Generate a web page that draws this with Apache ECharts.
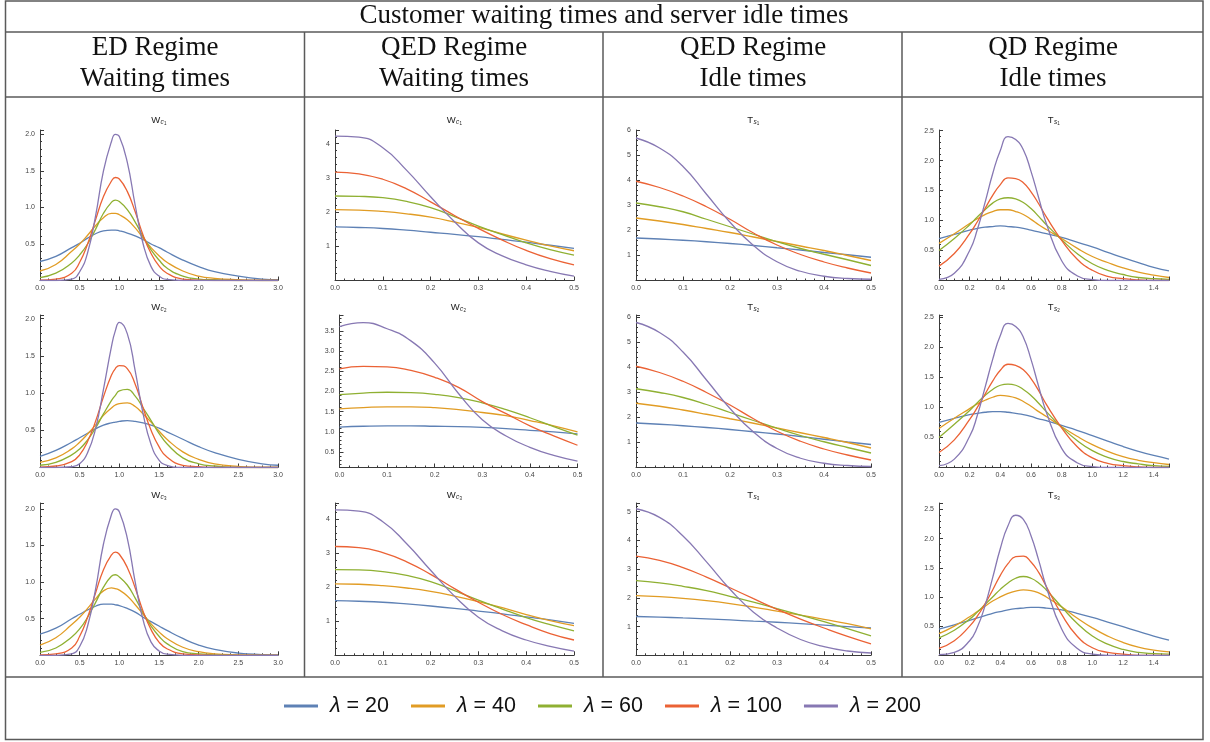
<!DOCTYPE html>
<html lang="en">
<head>
<meta charset="UTF-8">
<title>Customer waiting times and server idle times</title>
<script src="https://cdn.jsdelivr.net/npm/echarts@6/dist/echarts.min.js"></script>
<style>
    html, body { margin: 0; padding: 0; background: #fff; }
    #main { width: 1210px; height: 742px; }
</style>
</head>
<body>
<div id="main"></div>
<script type="text/javascript">
    var lambdas = ['λ = 20', 'λ = 40', 'λ = 60', 'λ = 100', 'λ = 200'];
    var colors = ['#5e81b5', '#e19c24', '#8fb032', '#eb6235', '#8778b3'];

    // x samples for each kind of panel
    var xsED = [0, 0.2, 0.4, 0.5, 0.6, 0.7, 0.8, 0.9, 0.95, 1.0, 1.1, 1.2, 1.3, 1.4, 1.5, 1.6, 1.8, 2.0, 2.2, 2.5, 2.8, 3.0];
    var xsQED = [0, 0.05, 0.1, 0.15, 0.2, 0.25, 0.3, 0.35, 0.4, 0.45, 0.5];
    var xsQD = [0, 0.1, 0.2, 0.25, 0.3, 0.35, 0.4, 0.45, 0.5, 0.55, 0.6, 0.65, 0.7, 0.8, 0.9, 1.0, 1.1, 1.2, 1.3, 1.4, 1.5];

    // ED regime, waiting times (rows: lambda 20, 40, 60, 100, 200)
    var edW1 = [
        [0.26, 0.33, 0.45, 0.51, 0.58, 0.64, 0.68, 0.69, 0.69, 0.68, 0.65, 0.61, 0.56, 0.5, 0.45, 0.39, 0.28, 0.19, 0.12, 0.06, 0.02, 0.01],
        [0.13, 0.22, 0.4, 0.5, 0.62, 0.75, 0.86, 0.92, 0.92, 0.9, 0.83, 0.72, 0.58, 0.45, 0.34, 0.25, 0.13, 0.06, 0.03, 0.01, 0, 0],
        [0.04, 0.1, 0.24, 0.35, 0.5, 0.7, 0.92, 1.07, 1.1, 1.08, 0.97, 0.8, 0.6, 0.42, 0.28, 0.17, 0.06, 0.02, 0.01, 0, 0, 0],
        [0.005, 0.02, 0.1, 0.25, 0.5, 0.83, 1.15, 1.36, 1.41, 1.39, 1.22, 0.94, 0.62, 0.37, 0.2, 0.1, 0.02, 0.005, 0, 0, 0, 0],
        [0, 0, 0.02, 0.12, 0.38, 0.88, 1.5, 1.9, 2.0, 1.97, 1.62, 1.03, 0.5, 0.19, 0.06, 0.015, 0, 0, 0, 0, 0, 0]
    ];
    var edW2 = [
        [0.15, 0.23, 0.34, 0.4, 0.46, 0.52, 0.57, 0.6, 0.61, 0.62, 0.63, 0.62, 0.6, 0.57, 0.53, 0.48, 0.38, 0.28, 0.2, 0.11, 0.05, 0.03],
        [0.07, 0.13, 0.25, 0.34, 0.45, 0.57, 0.7, 0.8, 0.84, 0.86, 0.87, 0.82, 0.72, 0.61, 0.49, 0.38, 0.21, 0.11, 0.05, 0.015, 0, 0],
        [0.03, 0.07, 0.17, 0.25, 0.37, 0.53, 0.72, 0.9, 0.97, 1.03, 1.05, 0.96, 0.8, 0.63, 0.46, 0.32, 0.13, 0.05, 0.02, 0, 0, 0],
        [0.005, 0.02, 0.08, 0.17, 0.35, 0.62, 0.95, 1.24, 1.33, 1.37, 1.33, 1.12, 0.8, 0.5, 0.28, 0.14, 0.03, 0.01, 0, 0, 0, 0],
        [0, 0, 0.01, 0.05, 0.2, 0.52, 1.05, 1.62, 1.84, 1.95, 1.8, 1.3, 0.72, 0.31, 0.1, 0.03, 0, 0, 0, 0, 0, 0]
    ];
    var edW3 = [
        [0.29, 0.37, 0.5, 0.56, 0.62, 0.67, 0.7, 0.7, 0.69, 0.68, 0.64, 0.59, 0.52, 0.46, 0.4, 0.34, 0.23, 0.14, 0.08, 0.03, 0.01, 0.005],
        [0.14, 0.24, 0.42, 0.52, 0.64, 0.77, 0.88, 0.92, 0.91, 0.89, 0.81, 0.69, 0.56, 0.43, 0.32, 0.23, 0.11, 0.05, 0.02, 0.005, 0, 0],
        [0.04, 0.1, 0.25, 0.36, 0.52, 0.72, 0.93, 1.08, 1.1, 1.07, 0.96, 0.78, 0.58, 0.4, 0.26, 0.16, 0.05, 0.02, 0.005, 0, 0, 0],
        [0.005, 0.02, 0.1, 0.26, 0.52, 0.85, 1.17, 1.37, 1.41, 1.38, 1.2, 0.92, 0.6, 0.35, 0.18, 0.09, 0.02, 0.005, 0, 0, 0, 0],
        [0, 0, 0.02, 0.12, 0.4, 0.9, 1.52, 1.92, 2.0, 1.96, 1.6, 1.0, 0.48, 0.18, 0.06, 0.015, 0, 0, 0, 0, 0, 0]
    ];

    // QED regime, waiting times
    var qedW1 = [
        [1.57, 1.55, 1.52, 1.47, 1.41, 1.35, 1.28, 1.2, 1.12, 1.03, 0.94],
        [2.07, 2.06, 2.02, 1.95, 1.85, 1.71, 1.55, 1.36, 1.18, 1.01, 0.87],
        [2.47, 2.46, 2.42, 2.31, 2.13, 1.87, 1.59, 1.34, 1.1, 0.9, 0.74],
        [3.17, 3.12, 2.96, 2.68, 2.3, 1.9, 1.52, 1.18, 0.88, 0.64, 0.46],
        [4.22, 4.19, 3.88, 3.22, 2.45, 1.72, 1.1, 0.72, 0.46, 0.27, 0.13]
    ];
    var qedW2 = [
        [1.12, 1.14, 1.15, 1.15, 1.14, 1.13, 1.11, 1.08, 1.04, 1.0, 0.95],
        [1.57, 1.6, 1.62, 1.62, 1.6, 1.55, 1.48, 1.4, 1.28, 1.15, 1.0],
        [1.92, 1.96, 1.98, 1.97, 1.93, 1.85, 1.72, 1.55, 1.35, 1.13, 0.92],
        [2.56, 2.62, 2.61, 2.52, 2.35, 2.1, 1.75, 1.45, 1.15, 0.9, 0.67],
        [3.6, 3.7, 3.55, 3.25, 2.7, 1.95, 1.3, 0.9, 0.62, 0.42, 0.28]
    ];
    var qedW3 = [
        [1.61, 1.59, 1.56, 1.51, 1.45, 1.38, 1.3, 1.22, 1.13, 1.04, 0.94],
        [2.1, 2.09, 2.05, 1.98, 1.88, 1.74, 1.58, 1.4, 1.2, 1.02, 0.87],
        [2.52, 2.51, 2.46, 2.35, 2.17, 1.9, 1.62, 1.36, 1.11, 0.9, 0.72],
        [3.2, 3.17, 3.02, 2.75, 2.38, 1.96, 1.56, 1.2, 0.9, 0.64, 0.45],
        [4.28, 4.24, 3.93, 3.28, 2.5, 1.74, 1.12, 0.72, 0.45, 0.26, 0.12]
    ];

    // QED regime, idle times
    var qedT1 = [
        [1.7, 1.66, 1.61, 1.55, 1.48, 1.4, 1.31, 1.22, 1.12, 1.03, 0.93],
        [2.5, 2.38, 2.24, 2.08, 1.92, 1.74, 1.56, 1.38, 1.2, 1.0, 0.8],
        [3.1, 2.95, 2.75, 2.45, 2.15, 1.85, 1.55, 1.28, 1.05, 0.83, 0.6],
        [3.97, 3.72, 3.38, 2.95, 2.45, 1.9, 1.42, 1.04, 0.74, 0.5, 0.3],
        [5.7, 5.3, 4.56, 3.45, 2.33, 1.4, 0.75, 0.37, 0.17, 0.08, 0.05]
    ];
    var qedT2 = [
        [1.78, 1.73, 1.67, 1.6, 1.52, 1.43, 1.34, 1.24, 1.13, 1.02, 0.92],
        [2.57, 2.45, 2.3, 2.13, 1.95, 1.77, 1.58, 1.39, 1.2, 1.0, 0.78],
        [3.15, 3.0, 2.8, 2.52, 2.2, 1.88, 1.57, 1.28, 1.03, 0.8, 0.58],
        [4.05, 3.8, 3.45, 3.0, 2.5, 1.95, 1.45, 1.05, 0.74, 0.5, 0.3],
        [5.8, 5.4, 4.62, 3.5, 2.36, 1.42, 0.76, 0.37, 0.17, 0.08, 0.04]
    ];
    var qedT3 = [
        [1.35, 1.33, 1.3, 1.27, 1.23, 1.19, 1.15, 1.1, 1.05, 1.0, 0.95],
        [2.08, 2.04, 1.98, 1.9, 1.8, 1.68, 1.54, 1.4, 1.25, 1.1, 0.92],
        [2.6, 2.52, 2.4, 2.25, 2.05, 1.85, 1.62, 1.4, 1.17, 0.93, 0.68],
        [3.45, 3.3, 3.05, 2.72, 2.35, 1.97, 1.6, 1.26, 0.95, 0.66, 0.4],
        [5.1, 4.8, 4.15, 3.25, 2.3, 1.5, 0.95, 0.55, 0.3, 0.15, 0.08]
    ];

    // QD regime, idle times
    var qdT1 = [
        [0.7, 0.77, 0.84, 0.87, 0.89, 0.9, 0.91, 0.9, 0.89, 0.87, 0.84, 0.81, 0.78, 0.72, 0.64, 0.56, 0.47, 0.38, 0.3, 0.22, 0.16],
        [0.62, 0.78, 0.95, 1.03, 1.1, 1.15, 1.18, 1.18, 1.15, 1.1, 1.02, 0.93, 0.85, 0.7, 0.54, 0.4, 0.3, 0.21, 0.14, 0.09, 0.05],
        [0.5, 0.7, 0.93, 1.06, 1.18, 1.29, 1.36, 1.38, 1.36, 1.3, 1.2, 1.07, 0.93, 0.68, 0.45, 0.28, 0.17, 0.1, 0.05, 0.03, 0.02],
        [0.24, 0.45, 0.78, 0.98, 1.2, 1.42, 1.6, 1.71, 1.7, 1.63, 1.48, 1.28, 1.06, 0.67, 0.36, 0.17, 0.07, 0.03, 0.01, 0, 0],
        [0.02, 0.12, 0.5, 0.85, 1.3, 1.78, 2.17, 2.4, 2.35, 2.18, 1.82, 1.38, 0.95, 0.33, 0.08, 0.015, 0, 0, 0, 0, 0]
    ];
    var qdT2 = [
        [0.75, 0.82, 0.88, 0.9, 0.92, 0.93, 0.93, 0.92, 0.9, 0.88, 0.85, 0.81, 0.78, 0.7, 0.62, 0.53, 0.44, 0.35, 0.27, 0.2, 0.14],
        [0.65, 0.82, 0.98, 1.06, 1.12, 1.17, 1.2, 1.19, 1.16, 1.1, 1.02, 0.93, 0.85, 0.68, 0.52, 0.38, 0.27, 0.18, 0.12, 0.08, 0.05],
        [0.5, 0.72, 0.95, 1.08, 1.2, 1.3, 1.37, 1.39, 1.37, 1.3, 1.2, 1.07, 0.93, 0.67, 0.45, 0.28, 0.17, 0.1, 0.06, 0.03, 0.02],
        [0.25, 0.46, 0.8, 1.0, 1.22, 1.44, 1.62, 1.72, 1.7, 1.63, 1.48, 1.28, 1.05, 0.66, 0.35, 0.16, 0.07, 0.03, 0.01, 0, 0],
        [0.03, 0.14, 0.52, 0.87, 1.33, 1.8, 2.2, 2.4, 2.35, 2.17, 1.8, 1.35, 0.92, 0.32, 0.08, 0.015, 0, 0, 0, 0, 0]
    ];
    var qdT3 = [
        [0.45, 0.52, 0.6, 0.64, 0.68, 0.72, 0.75, 0.78, 0.8, 0.81, 0.82, 0.82, 0.81, 0.78, 0.72, 0.65, 0.57, 0.49, 0.41, 0.33, 0.26],
        [0.37, 0.5, 0.66, 0.75, 0.84, 0.93, 1.0, 1.06, 1.1, 1.12, 1.11, 1.07, 1.0, 0.83, 0.64, 0.47, 0.33, 0.22, 0.14, 0.09, 0.06],
        [0.3, 0.43, 0.62, 0.74, 0.87, 1.0, 1.13, 1.24, 1.32, 1.35, 1.32, 1.24, 1.12, 0.83, 0.55, 0.33, 0.19, 0.1, 0.05, 0.03, 0.02],
        [0.12, 0.25, 0.5, 0.67, 0.88, 1.12, 1.37, 1.57, 1.69, 1.7, 1.6, 1.42, 1.18, 0.7, 0.33, 0.13, 0.05, 0.02, 0, 0, 0],
        [0.01, 0.05, 0.25, 0.48, 0.85, 1.33, 1.83, 2.22, 2.4, 2.33, 2.05, 1.63, 1.17, 0.45, 0.12, 0.02, 0, 0, 0, 0, 0]
    ];

    var headers = [
        ['ED Regime', 'Waiting times'],
        ['QED Regime', 'Waiting times'],
        ['QED Regime', 'Idle times'],
        ['QD Regime', 'Idle times']
    ];

    // layout of the 4 x 3 panels
    var colLeft = [40, 335, 636, 939];
    var colWidth = [238, 239, 235, 230];
    var colCenter = [155, 454, 753, 1053];
    var rowTop = [130, 315, 503];
    var rowHeight = [150.5, 152.5, 152.3];
    var titleY = [120, 307, 495];
    var yMax = [[2.06, 4.4, 6.02, 2.51], [2.05, 3.89, 6.1, 2.54], [2.08, 4.48, 5.3, 2.61]];
    var colX = [
        {max: 3, interval: 0.5, minor: 5},
        {max: 0.5, interval: 0.1, minor: 5},
        {max: 0.5, interval: 0.1, minor: 5},
        {max: 1.5, interval: 0.2, minor: 4}
    ];
    var colY = [{interval: 0.5, digits: 1}, {interval: 1, digits: 0}, {interval: 1, digits: 0}, {interval: 0.5, digits: 1}];

    var panels = [
        [edW1, qedW1, qedT1, qdT1],
        [edW2, qedW2, qedT2, qdT2],
        [edW3, qedW3, qedT3, qdT3]
    ];
    var colXs = [xsED, xsQED, xsQED, xsQD];
    var colSym = [['W', 'c', 9], ['W', 'c', 9], ['T', 's', 5.8], ['T', 's', 5.8]];

    var axisColor = '#3a3a3a';
    var labelStyle = {fontSize: 7, color: '#444', fontFamily: 'Liberation Sans'};

    var grids = [], xAxes = [], yAxes = [], series = [], graphics = [];

    function fmt(d) {
        return function (v) { return v.toFixed(d); };
    }

    for (var r = 0; r < 3; r++) {
        for (var c = 0; c < 4; c++) {
            var i = grids.length;
            var left = colLeft[c], width = colWidth[c];
            var special = (r === 1 && c === 1);
            if (special) { left = 339.5; width = 238; }
            grids.push({left: left, top: rowTop[r], width: width, height: rowHeight[r], outerBoundsMode: 'none'});

            xAxes.push({
                type: 'value', gridIndex: i, min: 0, max: colX[c].max, interval: colX[c].interval,
                axisLine: {lineStyle: {color: axisColor, width: 1}},
                axisTick: {inside: true, length: 4, lineStyle: {color: axisColor}},
                minorTick: {show: true, splitNumber: colX[c].minor, length: 2, lineStyle: {color: axisColor}},
                splitLine: {show: false},
                axisLabel: Object.assign({margin: 4, formatter: fmt(1), showMaxLabel: c === 3 ? false : true}, labelStyle)
            });

            var yAxis = {
                type: 'value', gridIndex: i, min: 0, max: yMax[r][c], interval: colY[c].interval,
                axisLine: {lineStyle: {color: axisColor, width: 1}},
                axisTick: {inside: true, length: 4, lineStyle: {color: axisColor}},
                minorTick: {show: true, splitNumber: 5, length: 2, lineStyle: {color: axisColor}},
                splitLine: {show: false},
                axisLabel: Object.assign({margin: 5, formatter: fmt(colY[c].digits), showMinLabel: false, showMaxLabel: false}, labelStyle)
            };
            if (special) {
                // this panel's axes cross above zero
                yAxis.min = 0.12;
                delete yAxis.interval;
                yAxis.splitNumber = 7;
                yAxis.axisLabel.formatter = fmt(1);
            }
            yAxes.push(yAxis);

            var data = panels[r][c], xs = colXs[c];
            data.forEach(function (vals, k) {
                series.push({
                    name: lambdas[k], type: 'line', xAxisIndex: i, yAxisIndex: i,
                    data: xs.map(function (x, j) { return [x, vals[j]]; }),
                    showSymbol: false, smooth: 0.5, silent: true,
                    lineStyle: {color: colors[k], width: 1.3},
                    itemStyle: {color: colors[k]}
                });
            });

            // panel title, e.g. W_{c_1}
            var cx = left + width / 2;
            var ty = titleY[r];
            var symW = colSym[c][2];
            var sx = cx - (symW + 6.5) / 2;
            graphics.push(
                {type: 'text', x: sx, y: ty, style: {text: colSym[c][0], fontSize: 9.5, fontFamily: 'Liberation Sans', fill: '#222', align: 'left', verticalAlign: 'middle'}},
                {type: 'text', x: sx + symW + 0.3, y: ty + 2.5, style: {text: colSym[c][1], fontSize: 6.5, fontStyle: 'italic', fontFamily: 'Liberation Sans', fill: '#222', align: 'left', verticalAlign: 'middle'}},
                {type: 'text', x: sx + symW + 3.7, y: ty + 4, style: {text: String(r + 1), fontSize: 4.5, fontFamily: 'Liberation Sans', fill: '#222', align: 'left', verticalAlign: 'middle'}}
            );
        }
    }

    // table frame
    var frame = {stroke: '#5a5a5a', lineWidth: 1.5};
    graphics.push(
        {type: 'rect', shape: {x: 5.5, y: 1, width: 1197.5, height: 738.5}, style: {fill: 'none', stroke: frame.stroke, lineWidth: frame.lineWidth}},
        {type: 'line', shape: {x1: 5.5, y1: 32, x2: 1203, y2: 32}, style: frame},
        {type: 'line', shape: {x1: 5.5, y1: 97, x2: 1203, y2: 97}, style: frame},
        {type: 'line', shape: {x1: 5.5, y1: 677, x2: 1203, y2: 677}, style: frame},
        {type: 'line', shape: {x1: 304.5, y1: 32, x2: 304.5, y2: 677}, style: frame},
        {type: 'line', shape: {x1: 603, y1: 32, x2: 603, y2: 677}, style: frame},
        {type: 'line', shape: {x1: 902, y1: 32, x2: 902, y2: 677}, style: frame}
    );

    var serif = {fontSize: 27, fontFamily: 'Liberation Serif', fill: '#111', align: 'center', verticalAlign: 'middle'};
    graphics.push({type: 'text', x: 604, y: 16, style: Object.assign({text: 'Customer waiting times and server idle times'}, serif)});
    headers.forEach(function (h, c) {
        graphics.push(
            {type: 'text', x: colCenter[c], y: 48, style: Object.assign({text: h[0]}, serif)},
            {type: 'text', x: colCenter[c], y: 79, style: Object.assign({text: h[1]}, serif)}
        );
    });

    var myChart = echarts.init(document.getElementById('main'));
    var option = {
        animation: false,
        backgroundColor: '#fff',
        grid: grids,
        xAxis: xAxes,
        yAxis: yAxes,
        series: series,
        legend: {
            data: lambdas,
            left: 279,
            top: 690,
            icon: 'rect',
            itemWidth: 34,
            itemHeight: 3,
            itemGap: 22,
            selectedMode: false,
            formatter: function (name) { return '{i|λ}' + name.slice(1); },
            textStyle: {
                fontSize: 21.5, fontFamily: 'Liberation Sans', color: '#111', padding: [0, 0, 0, 7],
                rich: {i: {fontSize: 21.5, fontStyle: 'italic', fontFamily: 'Liberation Sans', color: '#111'}}
            }
        },
        graphic: {elements: graphics}
    };
    myChart.setOption(option);
</script>
</body>
</html>
